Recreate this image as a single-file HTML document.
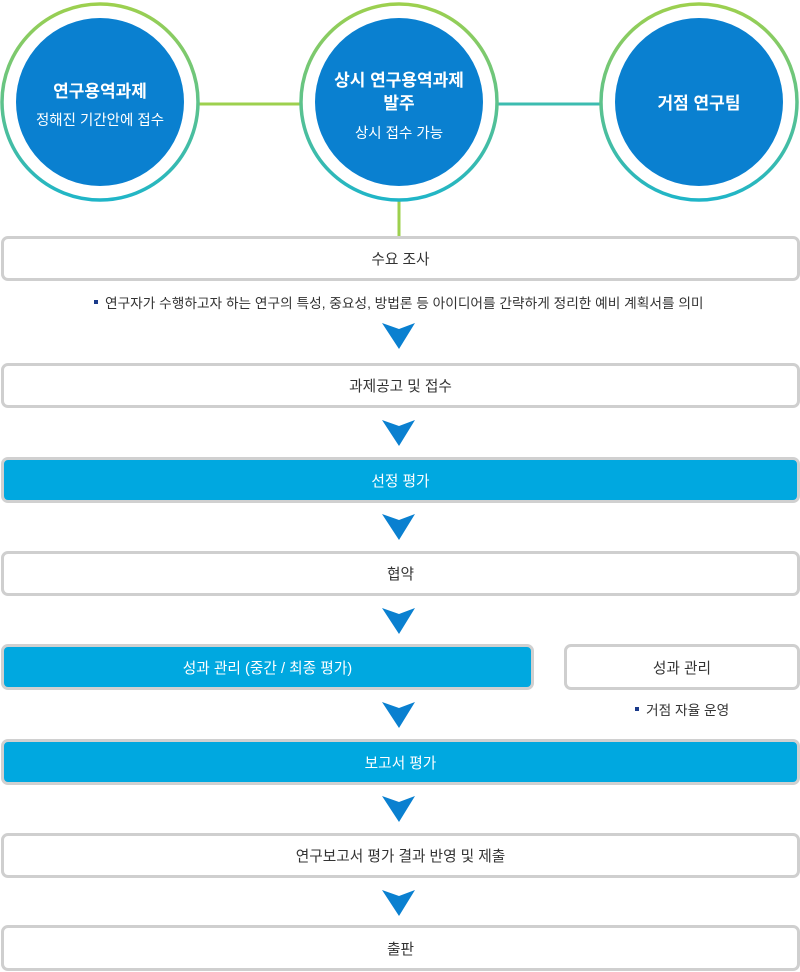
<!DOCTYPE html>
<html><head><meta charset="utf-8"><style>
body{margin:0;width:800px;height:972px;background:#fff;position:relative;font-family:"Liberation Sans","Noto Sans CJK KR",sans-serif;overflow:hidden}
.b{position:absolute;box-sizing:border-box;border:3px solid #cfcfcf;border-radius:7px;background:#fff;color:#333;font-size:14.7px;display:flex;align-items:center;justify-content:center}
.b.h{background:#00a8e0;color:#fff;border-color:#d0d0d0}
.a{position:absolute;left:382px;width:34px;height:26px}
.n{position:absolute;font-size:13.7px;color:#333}
.n:before{content:"";display:inline-block;width:4px;height:4px;background:#1a3a8a;margin-right:7px;vertical-align:middle;position:relative;top:-2px}
</style></head><body>
<svg width="800" height="240" style="position:absolute;left:0;top:0">
<defs><linearGradient id="g" x1="0" y1="0" x2="0" y2="1"><stop offset="0" stop-color="#9dd04e"/><stop offset="1" stop-color="#1fb5c8"/></linearGradient></defs>
<line x1="198" y1="104" x2="302" y2="104" stroke="#9dd04e" stroke-width="3"/>
<line x1="496" y1="104" x2="602" y2="104" stroke="#3cbcb0" stroke-width="3"/>
<line x1="399" y1="200" x2="399" y2="238" stroke="#9dd04e" stroke-width="3"/>
<g fill="#fff" stroke="url(#g)" stroke-width="3.5">
<circle cx="100" cy="102" r="98"/><circle cx="399" cy="102" r="98"/><circle cx="699" cy="102" r="98"/></g>
<g fill="#0a80d0"><circle cx="100" cy="102" r="84"/><circle cx="399" cy="102" r="84"/><circle cx="699" cy="102" r="84"/></g>
<g fill="#fff" text-anchor="middle" font-family="Liberation Sans,Noto Sans CJK KR,sans-serif">
<text x="100" y="97" font-size="17" font-weight="bold">연구용역과제</text>
<text x="100" y="125" font-size="14.5">정해진 기간안에 접수</text>
<text x="399" y="86" font-size="17" font-weight="bold">상시 연구용역과제</text>
<text x="399" y="109" font-size="17" font-weight="bold">발주</text>
<text x="399" y="138" font-size="14.5">상시 접수 가능</text>
<text x="699" y="109" font-size="17" font-weight="bold">거점 연구팀</text>
</g></svg>
<div class="b" style="left:1px;top:236px;width:799px;height:45px">수요 조사</div>
<div class="n" style="left:94px;top:292px">연구자가 수행하고자 하는 연구의 특성, 중요성, 방법론 등 아이디어를 간략하게 정리한 예비 계획서를 의미</div>
<div class="b" style="left:1px;top:363px;width:799px;height:45px">과제공고 및 접수</div>
<div class="b h" style="left:1px;top:457px;width:799px;height:46px">선정 평가</div>
<div class="b" style="left:1px;top:551px;width:799px;height:45px">협약</div>
<div class="b h" style="left:1px;top:644px;width:533px;height:46px">성과 관리 (중간 / 최종 평가)</div>
<div class="b" style="left:564px;top:644px;width:236px;height:46px">성과 관리</div>
<div class="n" style="left:635px;top:699px">거점 자율 운영</div>
<div class="b h" style="left:1px;top:739px;width:799px;height:46px">보고서 평가</div>
<div class="b" style="left:1px;top:833px;width:799px;height:45px">연구보고서 평가 결과 반영 및 제출</div>
<div class="b" style="left:1px;top:925px;width:799px;height:46px">출판</div>
<svg width="0" height="0" style="position:absolute"><defs><polygon id="ar" points="0,0 17,6 33,0 17,26" fill="#0a80d0"/></defs></svg>
<svg class="a" style="top:323px"><use href="#ar"/></svg>
<svg class="a" style="top:420px"><use href="#ar"/></svg>
<svg class="a" style="top:514px"><use href="#ar"/></svg>
<svg class="a" style="top:608px"><use href="#ar"/></svg>
<svg class="a" style="top:702px"><use href="#ar"/></svg>
<svg class="a" style="top:796px"><use href="#ar"/></svg>
<svg class="a" style="top:890px"><use href="#ar"/></svg>
</body></html>
